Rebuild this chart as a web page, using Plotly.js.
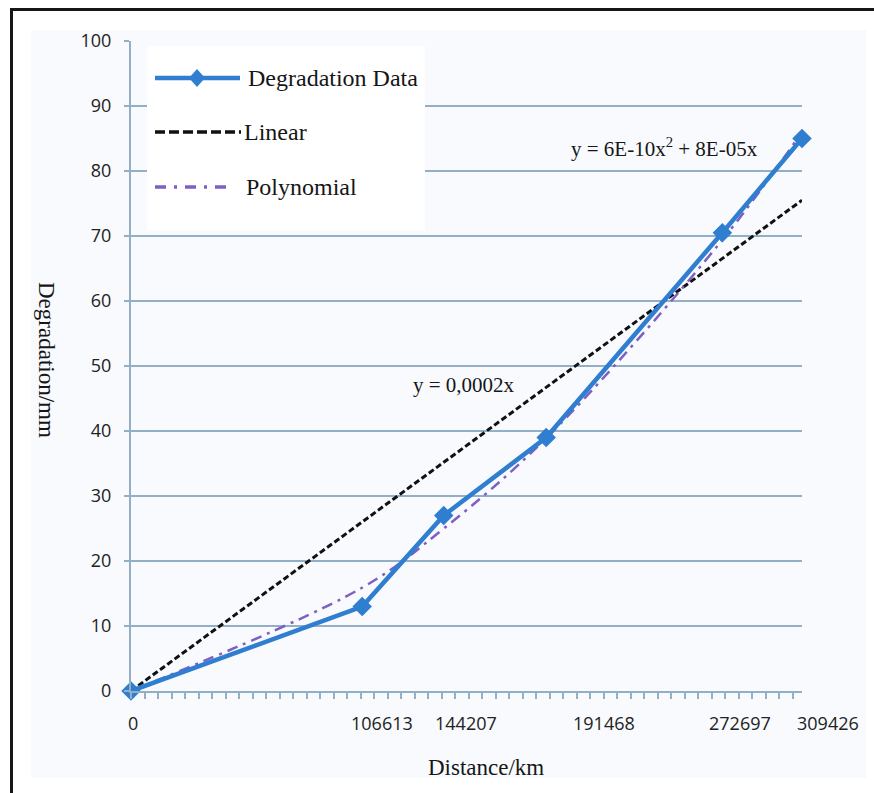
<!DOCTYPE html>
<html>
<head>
<meta charset="utf-8">
<script src="https://cdn.plot.ly/plotly-3.0.1.min.js"></script>
<style>html,body{margin:0;padding:0;background:#fff;}#chart{width:874px;height:793px;}</style>
</head>
<body>
<div id="chart"></div>
<script>
// ---- data ----
const distance = [0, 106613, 144207, 191468, 272697, 309426];
const degradation = [0, 13, 27, 39, 70.5, 85];
const linearX = [0, 309426];
const linearY = [0, 75.5];
const polyY = [0, 15.9, 25.0, 38.9, 69.4, 86.0];
const xTickLabels = ['0', '106613', '144207', '191468', '272697', '309426'];
const seriesNames = ['Degradation Data', 'Linear', 'Polynomial'];
const linearEq = 'y = 0,0002x';
const polyEq = 'y = 6E-10x<sup>2</sup> + 8E-05x';
const xTitle = 'Distance/km';
const yTitle = 'Degradation/mm';

// ---- layout helpers (pixel -> paper) ----
const L = 131, R = 802, T = 41, B = 691;
const px = p => (p - L) / (R - L);
const py = p => (B - p) / (B - T);
const labelShift = [2, 20, 22, 58, 18, 26];

const blue = '#2f7ed0', purple = '#7e5fc4', grid = '#93afc6', ink = '#161616';
const serif = 'Liberation Serif, Times New Roman, serif';
const sans = 'Open Sans, sans-serif';

const traces = [
  {x: linearX, y: linearY, type: 'scatter', mode: 'lines', name: seriesNames[1],
   line: {color: '#111', width: 3, dash: '6px,3px'}, hoverinfo: 'skip', cliponaxis: false},
  {x: distance, y: polyY, type: 'scatter', mode: 'lines', name: seriesNames[2],
   line: {color: purple, width: 2.5, dash: '11px,6px,3px,6px', shape: 'spline'}, hoverinfo: 'skip', cliponaxis: false},
  {x: distance, y: degradation, type: 'scatter', mode: 'lines+markers', name: seriesNames[0],
   line: {color: blue, width: 4.5}, marker: {symbol: 'diamond', size: 15, color: blue}, cliponaxis: false}
];

const shapes = [
  {type: 'rect', xref: 'paper', yref: 'paper', layer: 'below', x0: px(31), x1: px(866), y0: py(30), y1: py(778),
   fillcolor: '#f8fafd', line: {width: 0}},
  {type: 'line', xref: 'paper', yref: 'paper', x0: px(11.5), x1: px(11.5), y0: py(8), y1: py(800), line: {color: ink, width: 3}},
  {type: 'line', xref: 'paper', yref: 'paper', x0: px(10), x1: px(880), y0: py(9.5), y1: py(9.5), line: {color: ink, width: 3}},
  {type: 'rect', xref: 'paper', yref: 'paper', layer: 'above', x0: px(147), x1: px(425), y0: py(230), y1: py(46),
   fillcolor: '#ffffff', line: {width: 0}},
  {type: 'line', xref: 'paper', yref: 'paper', x0: px(155), x1: px(240), y0: py(78), y1: py(78), line: {color: blue, width: 4.5}},
  {type: 'path', xref: 'paper', yref: 'paper', xsizemode: 'pixel', ysizemode: 'pixel', xanchor: px(197), yanchor: py(78),
   path: 'M 0 9 L 8 0 L 0 -9 L -8 0 Z', fillcolor: blue, line: {width: 0}},
  {type: 'line', xref: 'paper', yref: 'paper', x0: px(155), x1: px(241), y0: py(132), y1: py(132), line: {color: '#111', width: 3.5, dash: '10px,4px'}},
  {type: 'line', xref: 'paper', yref: 'paper', x0: px(155), x1: px(226), y0: py(187), y1: py(187), line: {color: purple, width: 3.5, dash: '11px,8px,3px,8px'}}
];

const annotations = [
  {xref: 'paper', yref: 'paper', x: px(246), y: py(78), xanchor: 'left', yanchor: 'middle', showarrow: false,
   text: seriesNames[0], font: {family: serif, size: 24, color: ink}},
  {xref: 'paper', yref: 'paper', x: px(242), y: py(132), xanchor: 'left', yanchor: 'middle', showarrow: false,
   text: seriesNames[1], font: {family: serif, size: 24, color: ink}},
  {xref: 'paper', yref: 'paper', x: px(244), y: py(187), xanchor: 'left', yanchor: 'middle', showarrow: false,
   text: seriesNames[2], font: {family: serif, size: 24, color: ink}},
  {xref: 'paper', yref: 'paper', x: px(411), y: py(385), xanchor: 'left', yanchor: 'middle', showarrow: false,
   text: linearEq, font: {family: serif, size: 21, color: ink}},
  {xref: 'paper', yref: 'paper', x: px(569), y: py(147), xanchor: 'left', yanchor: 'middle', showarrow: false,
   text: polyEq, font: {family: serif, size: 21, color: ink}},
  {xref: 'paper', yref: 'paper', x: px(486), y: py(767), xanchor: 'center', yanchor: 'middle', showarrow: false,
   text: xTitle, font: {family: serif, size: 23, color: ink}},
  {xref: 'paper', yref: 'paper', x: px(47), y: py(360), xanchor: 'center', yanchor: 'middle', showarrow: false,
   textangle: 90, text: yTitle, font: {family: serif, size: 23, color: ink}}
];
xTickLabels.forEach((t, i) => {
  annotations.push({xref: 'x', yref: 'paper', x: distance[i], y: 0, xshift: labelShift[i], yshift: -32,
    xanchor: 'center', yanchor: 'middle', showarrow: false, text: t, font: {family: sans, size: 18, color: '#222'}});
});

const layout = {
  width: 874, height: 793,
  margin: {l: L, r: 874 - R, t: T, b: 793 - B, pad: 0},
  paper_bgcolor: '#ffffff', plot_bgcolor: 'rgba(0,0,0,0)',
  showlegend: false,
  xaxis: {range: [0, 309426], showgrid: false, zeroline: false, showline: true, linecolor: grid, linewidth: 2,
    ticks: 'outside', tick0: 0, dtick: 6230, ticklen: 6, tickwidth: 2, tickcolor: grid, showticklabels: false},
  yaxis: {range: [0, 100], dtick: 10, showgrid: true, gridcolor: grid, gridwidth: 2, zeroline: false,
    showline: true, linecolor: grid, linewidth: 2, ticks: 'outside', ticklen: 5, tickwidth: 2, tickcolor: grid,
    ticklabelstandoff: 9, tickfont: {family: sans, size: 18, color: '#222'}},
  shapes: shapes,
  annotations: annotations
};

Plotly.newPlot('chart', traces, layout, {displayModeBar: false, staticPlot: true});
</script>
</body>
</html>
